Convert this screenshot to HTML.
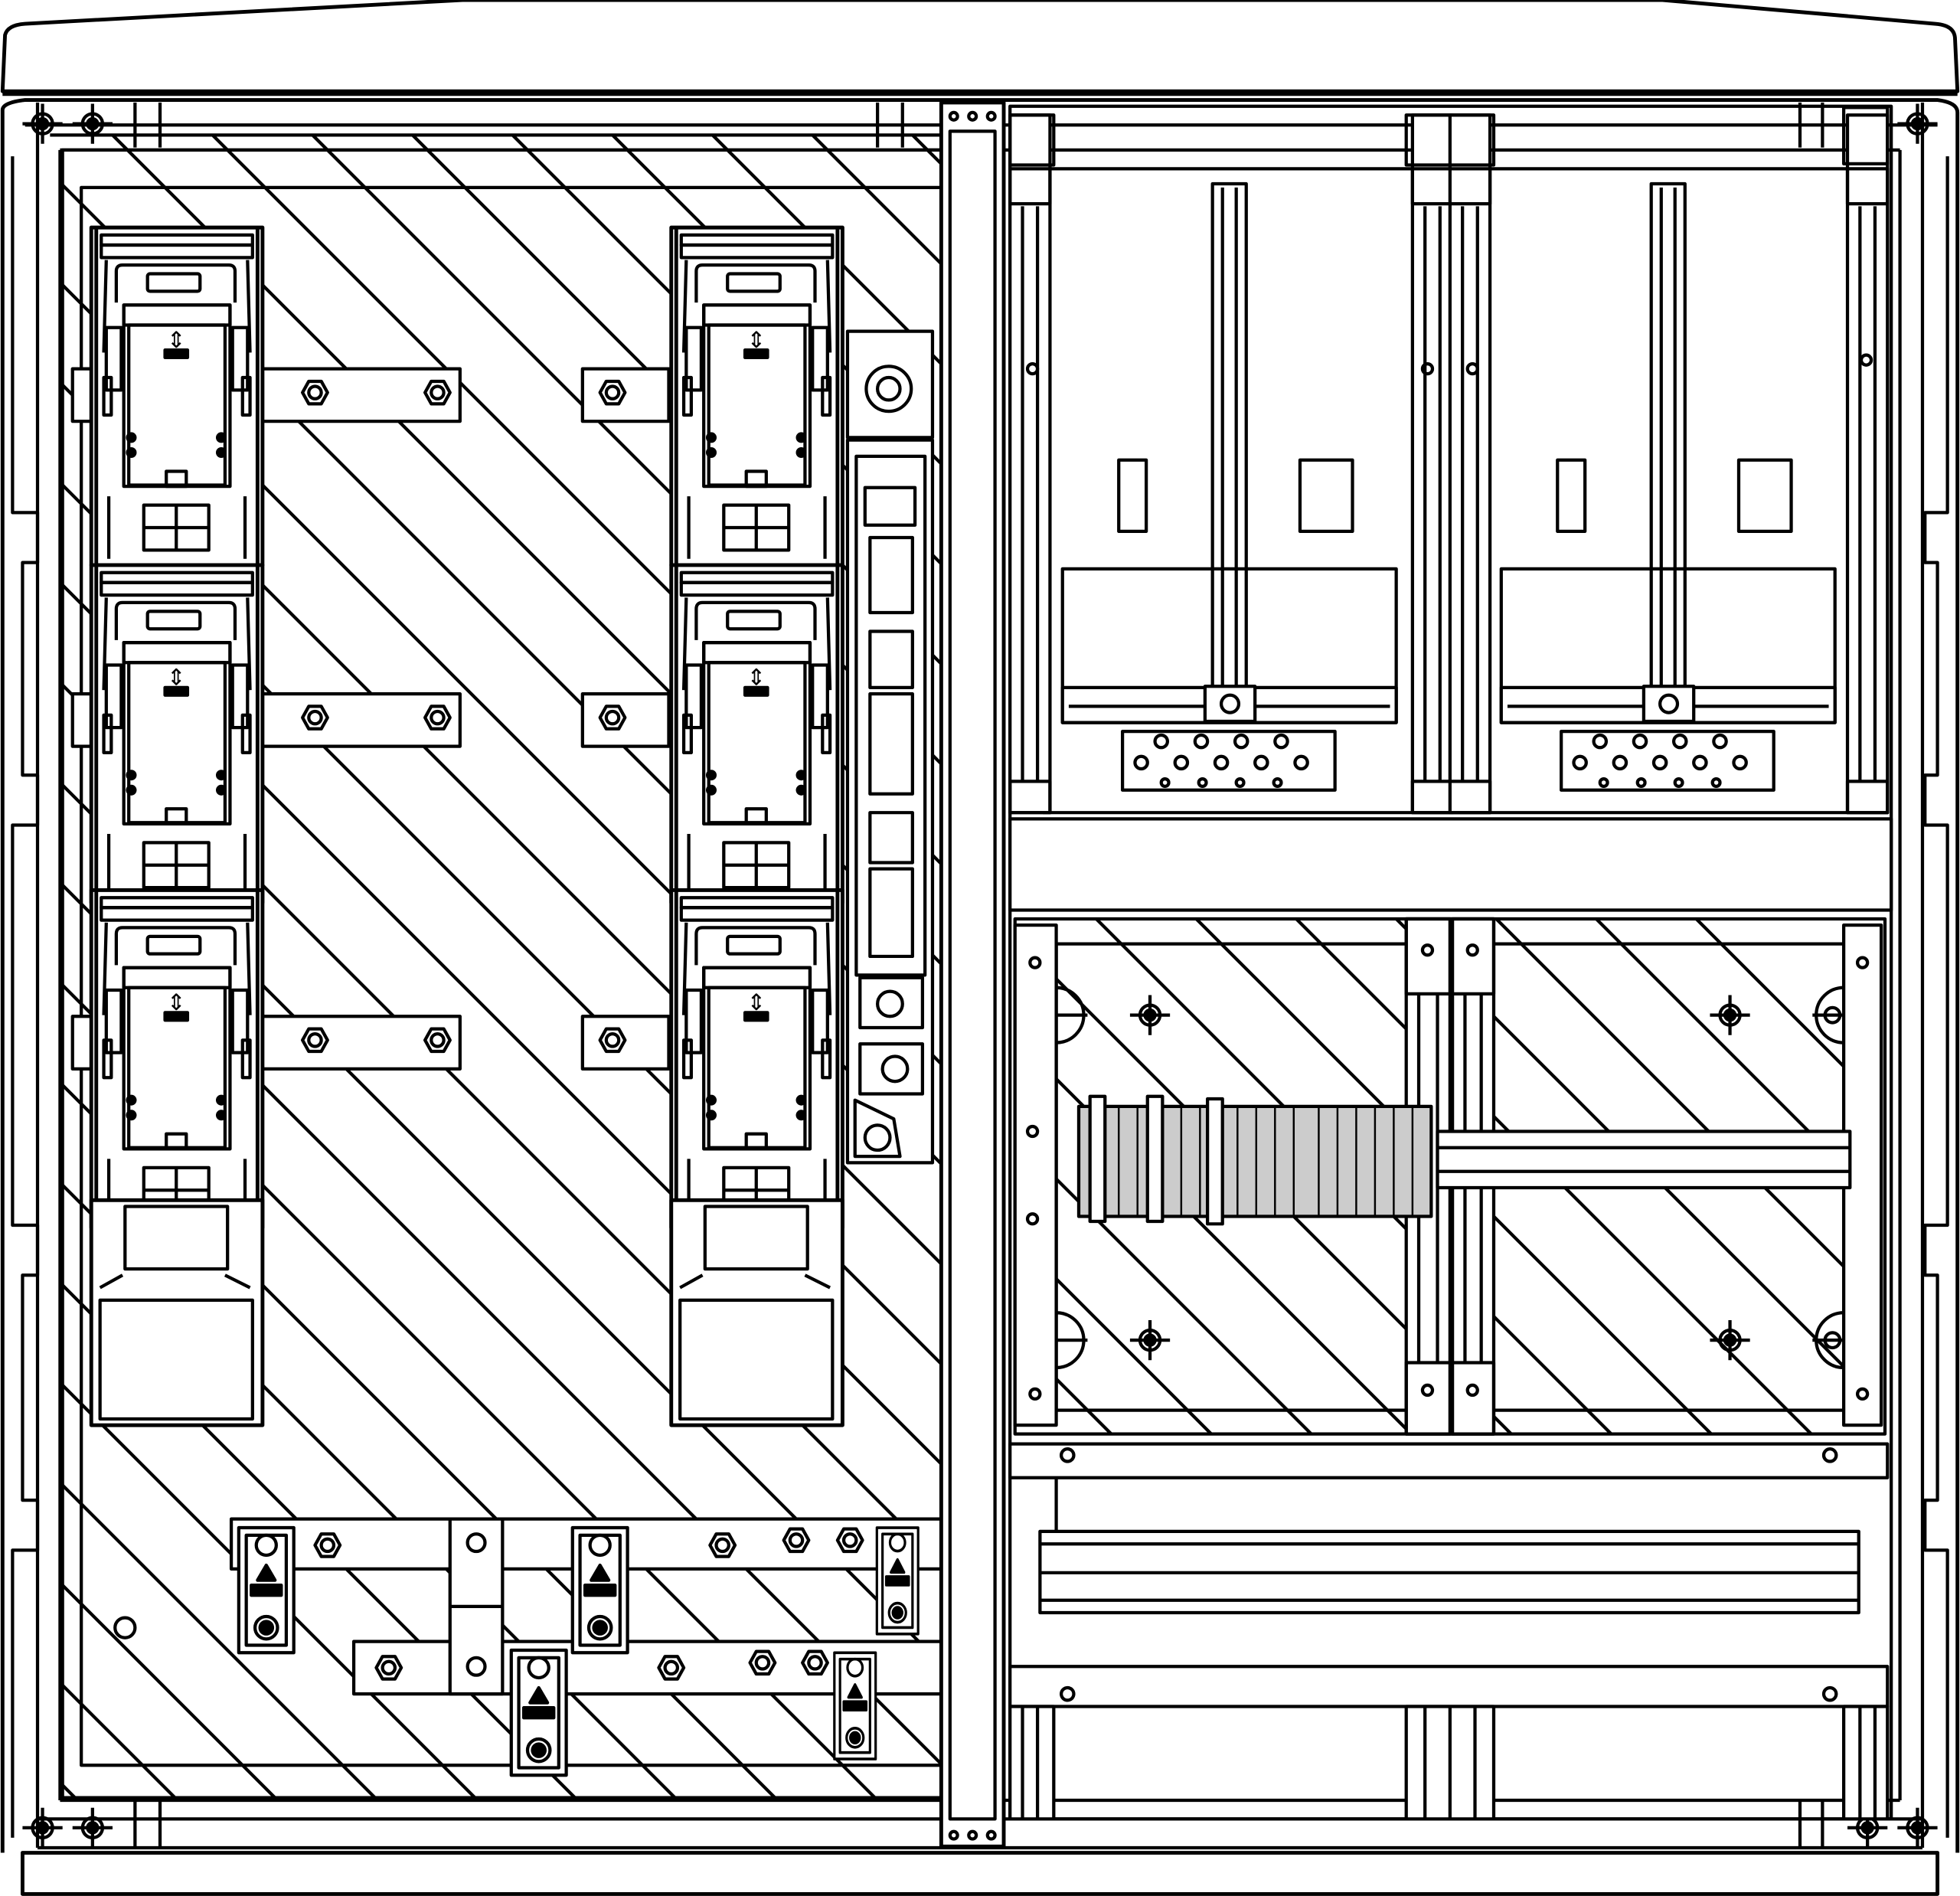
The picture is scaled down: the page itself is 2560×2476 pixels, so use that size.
<!DOCTYPE html>
<html><head><meta charset="utf-8"><style>html,body{margin:0;padding:0;background:#fff}svg{display:block}</style></head>
<body>
<svg xmlns="http://www.w3.org/2000/svg" width="2560" height="2476" viewBox="0 0 1568 1516.6" fill="none" stroke="#000" stroke-width="2.6" stroke-linejoin="round">
<defs>
<clipPath id="cl"><rect x="50" y="108" width="703" height="1330"/></clipPath>
<clipPath id="cr"><rect x="845" y="735" width="630" height="412"/></clipPath>
<g id="hl">
<line x1="730" y1="108" x2="2130" y2="1508"/><line x1="650" y1="108" x2="2050" y2="1508"/><line x1="570" y1="108" x2="1970" y2="1508"/><line x1="490" y1="108" x2="1890" y2="1508"/><line x1="410" y1="108" x2="1810" y2="1508"/><line x1="330" y1="108" x2="1730" y2="1508"/><line x1="250" y1="108" x2="1650" y2="1508"/><line x1="170" y1="108" x2="1570" y2="1508"/><line x1="90" y1="108" x2="1490" y2="1508"/><line x1="10" y1="108" x2="1410" y2="1508"/><line x1="-70" y1="108" x2="1330" y2="1508"/><line x1="-150" y1="108" x2="1250" y2="1508"/><line x1="-230" y1="108" x2="1170" y2="1508"/><line x1="-310" y1="108" x2="1090" y2="1508"/><line x1="-390" y1="108" x2="1010" y2="1508"/><line x1="-470" y1="108" x2="930" y2="1508"/><line x1="-550" y1="108" x2="850" y2="1508"/><line x1="-630" y1="108" x2="770" y2="1508"/><line x1="-710" y1="108" x2="690" y2="1508"/><line x1="-790" y1="108" x2="610" y2="1508"/><line x1="-870" y1="108" x2="530" y2="1508"/><line x1="-950" y1="108" x2="450" y2="1508"/><line x1="-1030" y1="108" x2="370" y2="1508"/><line x1="-1110" y1="108" x2="290" y2="1508"/><line x1="-1190" y1="108" x2="210" y2="1508"/><line x1="-1270" y1="108" x2="130" y2="1508"/>
</g>
<g id="fuse">
<rect x="0" y="0" width="137" height="270" fill="#fff" stroke-width="3"/>
<line x1="4" y1="0" x2="4" y2="270" stroke-width="3"/><line x1="133" y1="0" x2="133" y2="270" stroke-width="3"/>
<rect x="8" y="6" width="121" height="8"/><rect x="8" y="14" width="121" height="10"/>
<path d="M12 26 L10 100 M125 26 L127 100"/>
<path d="M20 60 V35 Q20 30 25 30 H110 Q115 30 115 35 V60"/>
<rect x="45" y="37" width="42" height="14" rx="2"/>
<rect x="26" y="62" width="85" height="16"/>
<rect x="26" y="62" width="85" height="145"/>
<rect x="30" y="78" width="77" height="128"/>
<text x="68" y="96" font-family="Liberation Sans, sans-serif" font-size="18" text-anchor="middle" fill="#000" stroke="none">⇕</text>
<rect x="59" y="98" width="18" height="6" fill="#000"/>
<rect x="12" y="80" width="12" height="50"/><rect x="113" y="80" width="12" height="50"/>
<circle cx="32" cy="168" r="3" fill="#000"/><circle cx="32" cy="180" r="3" fill="#000"/>
<circle cx="104" cy="168" r="3" fill="#000"/><circle cx="104" cy="180" r="3" fill="#000"/>
<rect x="60" y="195" width="16" height="12"/>
<rect x="42" y="222" width="52" height="36"/><line x1="68" y1="222" x2="68" y2="258"/>
<line x1="42" y1="240" x2="94" y2="240"/>
<line x1="14" y1="215" x2="14" y2="265"/><line x1="123" y1="215" x2="123" y2="265"/>
<rect x="10" y="120" width="6" height="30"/><rect x="121" y="120" width="6" height="30"/>
</g>
<g id="nut"><polygon points="-10,0 -5,-9 5,-9 10,0 5,9 -5,9" fill="#fff"/><circle r="5"/></g>
<g id="term"><rect x="-22" y="0" width="44" height="100" fill="#fff"/><rect x="-16" y="6" width="32" height="88"/><circle cx="0" cy="14" r="8"/><polygon points="-7,42 7,42 0,30" fill="#000"/><rect x="-12" y="46" width="24" height="8" fill="#000"/><circle cx="0" cy="80" r="9"/><circle cx="0" cy="80" r="5" fill="#000"/></g>
<g id="xh"><circle r="8"/><circle r="4" fill="#000"/><path d="M-16 0H16M0-16V16"/></g>
</defs>

<!-- roof -->
<path d="M2 73 L4 28 Q6 20 20 19 L370 0 H1330 L1548 19 Q1563 20 1564 30 L1566 73 Z" stroke-width="3"/>
<line x1="2" y1="75" x2="1566" y2="75" stroke-width="3.5"/>
<!-- body -->
<path d="M2 1482 V88 Q2 82 20 80 H1550 Q1566 82 1566 90 V1482" stroke-width="3"/>
<rect x="18" y="1482" width="1532" height="33" stroke-width="3"/>
<line x1="30" y1="82" x2="30" y2="1478"/><line x1="1538" y1="82" x2="1538" y2="1478"/>
<path d="M10 125 V410 H30 V450 H18 V620 H30 V660 H10 V980 H30 V1020 H18 V1200 H30 V1240 H10 V1470"/>
<path d="M1558 125 V410 H1540 V450 H1550 V620 H1540 V660 H1558 V980 H1540 V1020 H1550 V1200 H1540 V1240 H1558 V1470"/>
<line x1="48" y1="120" x2="48" y2="1440"/><line x1="1520" y1="120" x2="1520" y2="1440"/>
<line x1="48" y1="120" x2="1520" y2="120"/><line x1="48" y1="1440" x2="1520" y2="1440"/>
<line x1="20" y1="100" x2="1550" y2="100"/><line x1="40" y1="108" x2="755" y2="108"/>
<line x1="30" y1="1455" x2="1538" y2="1455"/><line x1="30" y1="1478" x2="1538" y2="1478"/>
<line x1="108" y1="82" x2="108" y2="118"/><line x1="128" y1="82" x2="128" y2="118"/>
<line x1="702" y1="82" x2="702" y2="118"/><line x1="722" y1="82" x2="722" y2="118"/>
<line x1="108" y1="1440" x2="108" y2="1478"/><line x1="128" y1="1440" x2="128" y2="1478"/>
<line x1="1440" y1="82" x2="1440" y2="118"/><line x1="1458" y1="82" x2="1458" y2="118"/>
<line x1="1440" y1="1440" x2="1440" y2="1478"/><line x1="1458" y1="1440" x2="1458" y2="1478"/>
<g transform="translate(34,99)"><use href="#xh"/></g><g transform="translate(74,99)"><use href="#xh"/></g>
<g transform="translate(34,1462)"><use href="#xh"/></g><g transform="translate(74,1462)"><use href="#xh"/></g>
<g transform="translate(1534,99)"><use href="#xh"/></g><g transform="translate(1494,1462)"><use href="#xh"/></g><g transform="translate(1534,1462)"><use href="#xh"/></g>

<!-- left panel -->
<g clip-path="url(#cl)"><use href="#hl"/></g>
<rect x="65" y="150" width="688" height="1262"/>
<rect x="50" y="120" width="703" height="1318"/>
<g fill="#fff">
<rect x="210" y="295" width="158" height="42"/><rect x="466" y="295" width="69" height="42"/>
<rect x="210" y="555" width="158" height="42"/><rect x="466" y="555" width="69" height="42"/>
<rect x="210" y="813" width="158" height="42"/><rect x="466" y="813" width="69" height="42"/>
<rect x="58" y="295" width="16" height="42"/><rect x="58" y="555" width="16" height="42"/><rect x="58" y="813" width="16" height="42"/>
</g>
<g transform="translate(252,314)"><use href="#nut"/></g><g transform="translate(350,314)"><use href="#nut"/></g><g transform="translate(490,314)"><use href="#nut"/></g>
<g transform="translate(252,574)"><use href="#nut"/></g><g transform="translate(350,574)"><use href="#nut"/></g><g transform="translate(490,574)"><use href="#nut"/></g>
<g transform="translate(252,832)"><use href="#nut"/></g><g transform="translate(350,832)"><use href="#nut"/></g><g transform="translate(490,832)"><use href="#nut"/></g>

<g transform="translate(73,182)"><use href="#fuse"/></g>
<g transform="translate(73,452)"><use href="#fuse"/></g>
<g transform="translate(73,712)"><use href="#fuse"/></g>
<rect x="73" y="960" width="137" height="180" fill="#fff" stroke-width="3"/>
<rect x="100" y="965" width="82" height="50"/><path d="M80 1030 L98 1020 M200 1030 L180 1020"/>
<rect x="80" y="1040" width="122" height="95"/>
<g transform="translate(537,182)"><use href="#fuse"/></g>
<g transform="translate(537,452)"><use href="#fuse"/></g>
<g transform="translate(537,712)"><use href="#fuse"/></g>
<rect x="537" y="960" width="137" height="180" fill="#fff" stroke-width="3"/>
<rect x="564" y="965" width="82" height="50"/><path d="M544 1030 L562 1020 M664 1030 L644 1020"/>
<rect x="544" y="1040" width="122" height="95"/>

<rect x="678" y="265" width="68" height="85" fill="#fff"/><circle cx="711" cy="311" r="18"/><circle cx="711" cy="311" r="9"/>
<rect x="678" y="352" width="68" height="578" fill="#fff"/>
<rect x="685" y="365" width="55" height="415"/><rect x="692" y="390" width="40" height="30"/>
<rect x="696" y="430" width="34" height="60"/><rect x="696" y="505" width="34" height="45"/><rect x="696" y="555" width="34" height="80"/>
<rect x="696" y="650" width="34" height="40"/><rect x="696" y="695" width="34" height="70"/>
<rect x="688" y="782" width="50" height="40"/><circle cx="712" cy="803" r="10"/>
<circle cx="716" cy="855" r="10"/><rect x="688" y="835" width="50" height="40"/>
<circle cx="702" cy="910" r="10"/><path d="M684 880 L715 895 L720 925 H684Z"/>

<g fill="#fff">
<rect x="185" y="1215" width="568" height="40"/><rect x="283" y="1313" width="470" height="42"/>
<rect x="360" y="1215" width="42" height="140"/>
</g>
<line x1="360" y1="1285" x2="402" y2="1285"/>
<circle cx="381" cy="1234" r="7"/><circle cx="381" cy="1333" r="7"/><circle cx="100" cy="1302" r="8"/>
<g transform="translate(262,1236)"><use href="#nut"/></g><g transform="translate(578,1236)"><use href="#nut"/></g>
<g transform="translate(637,1232)"><use href="#nut"/></g><g transform="translate(680,1232)"><use href="#nut"/></g>
<g transform="translate(311,1334)"><use href="#nut"/></g><g transform="translate(537,1334)"><use href="#nut"/></g>
<g transform="translate(610,1330)"><use href="#nut"/></g><g transform="translate(652,1330)"><use href="#nut"/></g>
<g transform="translate(213,1222)"><use href="#term"/></g>
<g transform="translate(480,1222)"><use href="#term"/></g>
<g transform="translate(431,1320)"><use href="#term"/></g>
<g transform="translate(718,1222) scale(0.75,0.85)"><use href="#term"/></g>
<g transform="translate(684,1322) scale(0.75,0.85)"><use href="#term"/></g>

<rect x="753" y="82" width="50" height="1395" fill="#fff" stroke-width="3"/>
<rect x="760" y="105" width="36" height="1350"/>
<circle cx="763" cy="93" r="3"/><circle cx="778" cy="93" r="3"/><circle cx="793" cy="93" r="3"/>
<circle cx="763" cy="1468" r="3"/><circle cx="778" cy="1468" r="3"/><circle cx="793" cy="1468" r="3"/>

<rect x="808" y="85" width="705" height="1370"/>
<rect x="835" y="135" width="675" height="515"/>
<g fill="#fff">
<rect x="808" y="92" width="32" height="558"/><rect x="1130" y="92" width="32" height="558"/><rect x="1160" y="92" width="32" height="558"/><rect x="1478" y="92" width="32" height="558"/>
</g>
<line x1="818" y1="165" x2="818" y2="625"/><line x1="830" y1="165" x2="830" y2="625"/>
<line x1="1140" y1="165" x2="1140" y2="625"/><line x1="1152" y1="165" x2="1152" y2="625"/>
<line x1="1170" y1="165" x2="1170" y2="625"/><line x1="1182" y1="165" x2="1182" y2="625"/>
<line x1="1488" y1="165" x2="1488" y2="625"/><line x1="1500" y1="165" x2="1500" y2="625"/>
<rect x="808" y="135" width="32" height="28"/><rect x="1130" y="135" width="62" height="28"/><rect x="1478" y="135" width="32" height="28"/>
<rect x="808" y="625" width="32" height="25"/><rect x="1130" y="625" width="62" height="25"/><rect x="1478" y="625" width="32" height="25"/>
<rect x="1125" y="92" width="70" height="40"/><rect x="1475" y="86" width="35" height="45"/><rect x="808" y="92" width="35" height="40"/>
<circle cx="826" cy="295" r="4"/><circle cx="1142" cy="295" r="4"/><circle cx="1178" cy="295" r="4"/><circle cx="1493" cy="288" r="4"/>
<g id="meter">
<rect x="970" y="147" width="27" height="405" fill="#fff"/><line x1="978" y1="150" x2="978" y2="550"/><line x1="989" y1="150" x2="989" y2="550"/>
<rect x="895" y="368" width="22" height="57"/><rect x="1040" y="368" width="42" height="57"/>
<rect x="850" y="455" width="267" height="123"/>
<rect x="850" y="550" width="267" height="28" fill="#fff"/><line x1="855" y1="565" x2="1112" y2="565"/>
<rect x="964" y="549" width="40" height="28" fill="#fff"/><circle cx="984" cy="563" r="7"/>
<rect x="898" y="585" width="170" height="47"/>
<g><circle cx="913" cy="610" r="5"/><circle cx="945" cy="610" r="5"/><circle cx="977" cy="610" r="5"/><circle cx="1009" cy="610" r="5"/><circle cx="1041" cy="610" r="5"/>
<circle cx="929" cy="593" r="5"/><circle cx="961" cy="593" r="5"/><circle cx="993" cy="593" r="5"/><circle cx="1025" cy="593" r="5"/>
<circle cx="932" cy="626" r="3"/><circle cx="962" cy="626" r="3"/><circle cx="992" cy="626" r="3"/><circle cx="1022" cy="626" r="3"/></g>
</g>
<g transform="translate(351,0)"><use href="#meter"/></g>
<rect x="808" y="655" width="705" height="73" fill="#fff"/>

<g clip-path="url(#cr)"><use href="#hl"/></g>
<rect x="812" y="735" width="696" height="412"/>
<rect x="845" y="755" width="630" height="373"/>
<g fill="#fff"><rect x="812" y="740" width="33" height="400"/><rect x="1475" y="740" width="30" height="400"/>
<rect x="1125" y="735" width="35" height="412"/><rect x="1162" y="735" width="33" height="412"/></g>
<rect x="1125" y="735" width="70" height="60"/><rect x="1125" y="1090" width="70" height="57"/>
<line x1="1135" y1="795" x2="1135" y2="1090"/><line x1="1150" y1="795" x2="1150" y2="1090"/><line x1="1172" y1="795" x2="1172" y2="1090"/><line x1="1185" y1="795" x2="1185" y2="1090"/>
<circle cx="1142" cy="760" r="4"/><circle cx="1178" cy="760" r="4"/><circle cx="1142" cy="1112" r="4"/><circle cx="1178" cy="1112" r="4"/>
<circle cx="828" cy="770" r="4"/><circle cx="826" cy="905" r="4"/><circle cx="826" cy="975" r="4"/><circle cx="828" cy="1115" r="4"/><circle cx="1490" cy="770" r="4"/><circle cx="1490" cy="1115" r="4"/>
<rect x="1150" y="905" width="330" height="45" fill="#fff"/><line x1="1150" y1="918" x2="1480" y2="918"/><line x1="1150" y1="937" x2="1480" y2="937"/>
<rect x="863" y="885" width="282" height="88" fill="#ccc"/>
<g stroke-width="1.5"><line x1="895" y1="885" x2="895" y2="973"/><line x1="910" y1="885" x2="910" y2="973"/><line x1="945" y1="885" x2="945" y2="973"/><line x1="960" y1="885" x2="960" y2="973"/><line x1="990" y1="885" x2="990" y2="973"/><line x1="1005" y1="885" x2="1005" y2="973"/><line x1="1020" y1="885" x2="1020" y2="973"/><line x1="1035" y1="885" x2="1035" y2="973"/><line x1="1055" y1="885" x2="1055" y2="973"/><line x1="1070" y1="885" x2="1070" y2="973"/><line x1="1085" y1="885" x2="1085" y2="973"/><line x1="1100" y1="885" x2="1100" y2="973"/><line x1="1115" y1="885" x2="1115" y2="973"/><line x1="1130" y1="885" x2="1130" y2="973"/></g>
<rect x="872" y="877" width="12" height="100" fill="#fff"/><rect x="918" y="877" width="12" height="100" fill="#fff"/><rect x="966" y="879" width="12" height="100" fill="#fff"/>
<g transform="translate(920,812)"><use href="#xh"/></g><g transform="translate(1384,812)"><use href="#xh"/></g>
<g transform="translate(920,1072)"><use href="#xh"/></g><g transform="translate(1384,1072)"><use href="#xh"/></g>
<path d="M845 790 A22 22 0 0 1 845 834 M1475 790 A22 22 0 0 0 1475 834 M845 1050 A22 22 0 0 1 845 1094 M1475 1050 A22 22 0 0 0 1475 1094"/>
<path d="M845 812 H870 M1450 812 H1475 M845 1072 H870 M1450 1072 H1475"/>
<circle cx="1466" cy="812" r="6"/><circle cx="1466" cy="1072" r="6"/>

<rect x="808" y="1155" width="702" height="27" fill="#fff"/><circle cx="854" cy="1164" r="5"/><circle cx="1464" cy="1164" r="5"/>
<line x1="845" y1="1182" x2="845" y2="1225"/>
<rect x="832" y="1225" width="655" height="65"/><line x1="832" y1="1235" x2="1487" y2="1235"/><line x1="832" y1="1258" x2="1487" y2="1258"/><line x1="832" y1="1280" x2="1487" y2="1280"/>
<rect x="808" y="1333" width="702" height="32" fill="#fff"/><circle cx="854" cy="1355" r="5"/><circle cx="1464" cy="1355" r="5"/>
<g fill="#fff"><rect x="808" y="1365" width="35" height="90"/><rect x="1125" y="1365" width="70" height="90"/><rect x="1475" y="1365" width="35" height="90"/></g>
<line x1="818" y1="1365" x2="818" y2="1455"/><line x1="830" y1="1365" x2="830" y2="1455"/>
<line x1="1140" y1="1365" x2="1140" y2="1455"/><line x1="1160" y1="1365" x2="1160" y2="1455"/><line x1="1180" y1="1365" x2="1180" y2="1455"/>
<line x1="1488" y1="1365" x2="1488" y2="1455"/><line x1="1500" y1="1365" x2="1500" y2="1455"/>
</svg>
</body></html>
